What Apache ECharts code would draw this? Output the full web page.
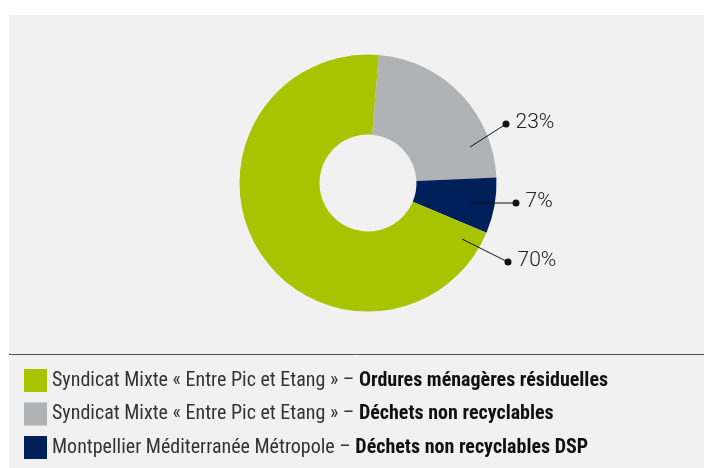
<!DOCTYPE html>
<html>
<head>
<meta charset="utf-8">
<script src="https://cdn.jsdelivr.net/npm/echarts@6/dist/echarts.min.js"></script>
<style>
  html, body { margin: 0; padding: 0; background: #fff; }
  #panel { position: absolute; left: 9px; top: 15px; width: 695px; height: 453px; background: #f1f1f1; }
  #container { width: 695px; height: 453px; }
</style>
</head>
<body>
<div id="panel"><div id="container"></div></div>
<script>
var dom = document.getElementById('container');
var myChart = echarts.init(dom, null, { renderer: 'canvas' });

// slices, clockwise from the top
var names = [
    'Syndicat Mixte « Entre Pic et Etang » – Déchets non recyclables',
    'Montpellier Méditerranée Métropole – Déchets non recyclables DSP',
    'Syndicat Mixte « Entre Pic et Etang » – Ordures ménagères résiduelles'
];
var values = [23, 7, 70];
var labels = ['23%', '7%', '70%'];
var colors = ['#b1b2b4', '#00205b', '#a8c400'];
// legend order as printed under the chart
var legendOrder = [names[2], names[0], names[1]];

var legendFont = "'Liberation Sans Narrow', 'Roboto Condensed', 'DejaVu Sans Condensed', sans-serif";

// pie geometry (container px)
var cx = 359, cy = 168;
// leader line: start inside slice, dot outside (offsets from centre)
var leaders = [
    { sx: 102, sy: -36, ex: 138, ey: -59 },
    { sx: 103, sy: 20, ex: 148, ey: 20 },
    { sx: 94, sy: 56, ex: 140, ey: 79 }
];

// leader lines + dots drawn above the sectors
var leaderGraphics = [];
leaders.forEach(function (l) {
    leaderGraphics.push({
        type: 'line', z: 100,
        shape: { x1: cx + l.sx, y1: cy + l.sy, x2: cx + l.ex, y2: cy + l.ey },
        style: { stroke: '#111', lineWidth: 1 }
    });
    leaderGraphics.push({
        type: 'circle', z: 101,
        shape: { cx: cx + l.ex, cy: cy + l.ey, r: 3.5 },
        style: { fill: '#111' }
    });
});

var option = {
    animation: false,
    color: colors,
    legend: {
        orient: 'vertical',
        left: 15,
        top: 354,
        height: 110,
        padding: 0,
        icon: 'rect',
        itemWidth: 23,
        itemHeight: 23,
        itemGap: 10.5,
        selectedMode: false,
        data: legendOrder,
        formatter: function (name) {
            var parts = name.split(' – ');
            return '{r|' + parts[0] + ' – }{b|' + parts[1] + '}';
        },
        textStyle: {
            rich: {
                r: { fontFamily: legendFont, fontSize: 20, color: '#333', lineHeight: 23 },
                b: { fontFamily: legendFont, fontSize: 20, fontWeight: 'bold', color: '#111', lineHeight: 23 }
            }
        }
    },
    graphic: [{
        type: 'line',
        shape: { x1: 0, y1: 339.5, x2: 695, y2: 339.5 },
        style: { stroke: '#555', lineWidth: 1 }
    }].concat(leaderGraphics),
    series: [{
        type: 'pie',
        center: [cx, cy],
        radius: [48.5, 128.5],
        startAngle: 85.2,
        clockwise: true,
        silent: true,
        emphasis: { disabled: true },
        data: values.map(function (v, i) { return { name: names[i], value: v }; }),
        label: {
            show: true,
            position: 'outside',
            formatter: function (p) { return labels[p.dataIndex]; },
            fontFamily: 'Roboto',
            fontWeight: 300,
            fontSize: 21,
            color: '#222'
        },
        labelLine: { show: false },
        labelLayout: function (p) {
            var l = leaders[p.dataIndex];
            return {
                x: cx + l.ex + 9.5,
                y: cy + l.ey - 1,
                align: 'left',
                verticalAlign: 'middle'
            };
        }
    }]
};

myChart.setOption(option);
</script>
</body>
</html>
